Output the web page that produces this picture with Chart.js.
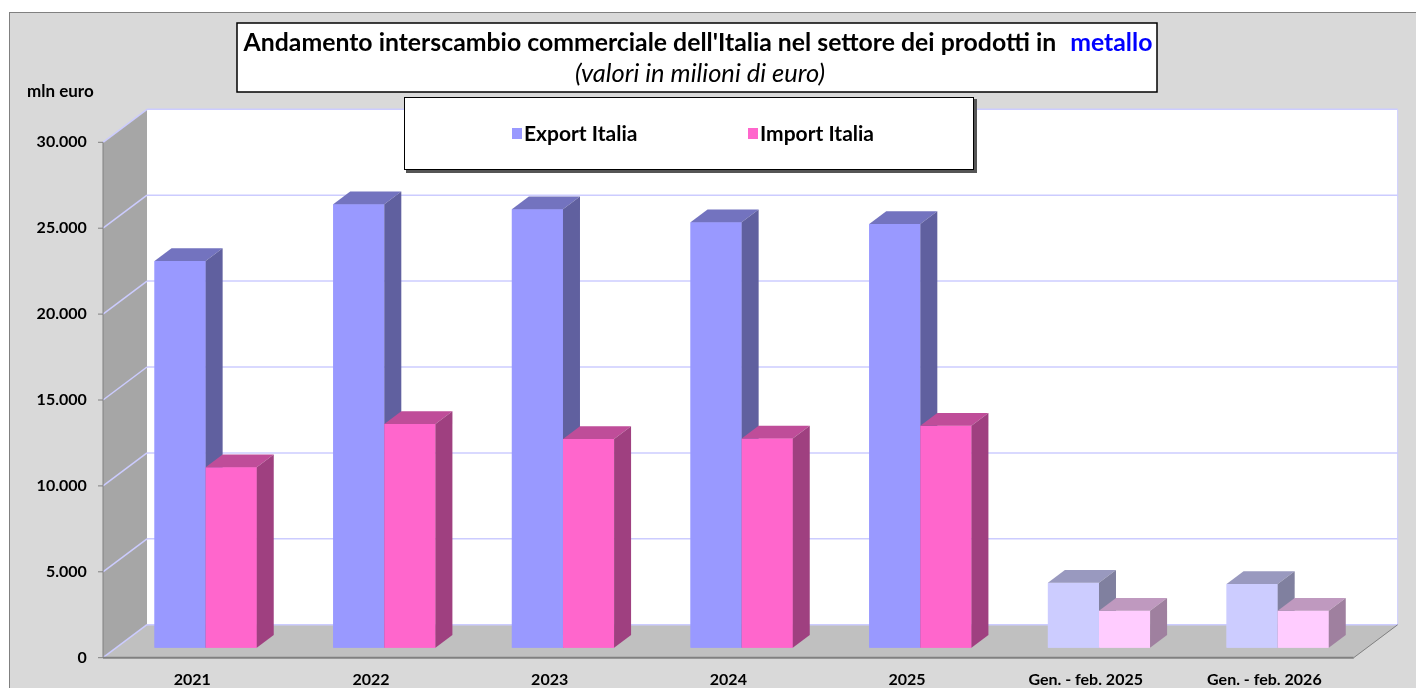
<!DOCTYPE html>
<html lang="it">
<head>
<meta charset="utf-8">
<title>Interscambio prodotti in metallo</title>
<script src="https://cdn.jsdelivr.net/npm/chart.js@4.4.1/dist/chart.umd.min.js"></script>
<style>
  html, body { margin: 0; padding: 0; background: #fff; }
  #wrap { width: 1416px; height: 688px; }
</style>
</head>
<body>
<div id="wrap"><canvas id="metalChart" width="1416" height="688"></canvas></div>
<script>
// valori (milioni di euro)
const categories = ['2021', '2022', '2023', '2024', '2025', 'Gen. - feb. 2025', 'Gen. - feb. 2026'];
const exportItalia = [22510, 25810, 25520, 24760, 24660, 3780, 3710];
const importItalia = [10500, 13020, 12150, 12170, 12920, 2150, 2150];
const yTicks = [0, 5000, 10000, 15000, 20000, 25000, 30000];
const seriesLabels = ['Export Italia', 'Import Italia'];

const titleText = "Andamento interscambio commerciale dell'Italia nel settore dei prodotti in";
const titleHighlight = 'metallo';
const subtitleText = '(valori in milioni di euro)';
const unitLabel = 'mln euro';

// colori: annuali pieni, periodi parziali (Gen. - feb.) chiari
const isPartial = c => c.startsWith('Gen.');
const exportColors = categories.map(c => isPartial(c) ? '#CCCCFF' : '#9999FF');
const importColors = categories.map(c => isPartial(c) ? '#FFCCFF' : '#FF66CC');

// finta profondita' 3D (pixel)
const FRONT = { dx: -13.3, dy: 10 };   // piano frontale dell'asse
const BACK = { dx: 30.7, dy: -23 };    // parete di fondo
const BAR = { dx: 17, dy: 12.75 };     // spessore barre

const fmt = v => String(v).replace(/\B(?=(\d{3})+(?!\d))/g, '.');

function shade(hex, f) {
  const n = parseInt(hex.slice(1), 16);
  const r = Math.round(((n >> 16) & 255) * f);
  const g = Math.round(((n >> 8) & 255) * f);
  const b = Math.round((n & 255) * f);
  return `rgb(${r},${g},${b})`;
}

function poly(ctx, pts, fill) {
  ctx.beginPath();
  ctx.moveTo(pts[0][0], pts[0][1]);
  for (let i = 1; i < pts.length; i++) ctx.lineTo(pts[i][0], pts[i][1]);
  ctx.closePath();
  ctx.fillStyle = fill;
  ctx.fill();
}

function line(ctx, x1, y1, x2, y2) {
  ctx.beginPath();
  ctx.moveTo(x1, y1);
  ctx.lineTo(x2, y2);
  ctx.stroke();
}

const box3d = {
  id: 'box3d',
  beforeDraw(chart) {
    const { ctx, chartArea: a, scales: { y } } = chart;
    const y0 = y.getPixelForValue(y.min);
    const yT = y.getPixelForValue(y.max);
    ctx.save();
    ctx.fillStyle = '#fff';
    ctx.fillRect(0, 0, chart.width, chart.height);
    ctx.fillStyle = '#D9D9D9';
    ctx.fillRect(9.5, 12.5, chart.width, chart.height);
    ctx.strokeStyle = '#808080';
    ctx.lineWidth = 1;
    ctx.strokeRect(9.5, 12.5, chart.width + 10, chart.height + 10);

    // parete di fondo
    ctx.fillStyle = '#fff';
    ctx.fillRect(a.left + BACK.dx, yT + BACK.dy, a.right - a.left, y0 - yT);
    // parete laterale
    poly(ctx, [[a.left + FRONT.dx, yT + FRONT.dy], [a.left + BACK.dx, yT + BACK.dy],
               [a.left + BACK.dx, y0 + BACK.dy], [a.left + FRONT.dx, y0 + FRONT.dy]], '#A6A6A6');
    // pavimento
    poly(ctx, [[a.left + FRONT.dx, y0 + FRONT.dy], [a.right + FRONT.dx, y0 + FRONT.dy],
               [a.right + BACK.dx, y0 + BACK.dy], [a.left + BACK.dx, y0 + BACK.dy]], '#C0C0C0');

    // griglia
    ctx.strokeStyle = '#CCCCFF';
    ctx.lineWidth = 1.5;
    y.ticks.forEach(t => {
      const py = y.getPixelForValue(t.value);
      line(ctx, a.left + FRONT.dx, py + FRONT.dy, a.left + BACK.dx, py + BACK.dy);
      line(ctx, a.left + BACK.dx, py + BACK.dy, a.right + BACK.dx, py + BACK.dy);
    });
    ctx.lineWidth = 1;
    line(ctx, a.right + BACK.dx, yT + BACK.dy, a.right + BACK.dx, y0 + BACK.dy);

    // asse e tacche
    ctx.strokeStyle = '#808080';
    ctx.lineWidth = 1;
    line(ctx, a.left + FRONT.dx, yT + FRONT.dy, a.left + FRONT.dx, y0 + FRONT.dy);
    y.ticks.forEach(t => {
      const py = y.getPixelForValue(t.value) + FRONT.dy;
      line(ctx, a.left + FRONT.dx - 5, py, a.left + FRONT.dx, py);
    });
    ctx.lineWidth = 2;
    line(ctx, a.left + FRONT.dx, y0 + FRONT.dy, a.right + FRONT.dx, y0 + FRONT.dy);
    ctx.lineWidth = 1;
    line(ctx, a.right + FRONT.dx, y0 + FRONT.dy, a.right + BACK.dx, y0 + BACK.dy);
    ctx.restore();
  },
  afterDatasetsDraw(chart) {
    const ctx = chart.ctx;
    const metas = chart.data.datasets.map((d, i) => chart.getDatasetMeta(i));
    ctx.save();
    categories.forEach((c, i) => {
      metas.forEach((meta, di) => {
        const bar = meta.data[i];
        const { x, y, base, width } = bar.getProps(['x', 'y', 'base', 'width'], true);
        const col = chart.data.datasets[di].backgroundColor[i];
        const x0 = x - width / 2, x1 = x + width / 2;
        poly(ctx, [[x0, y], [x1, y], [x1, base], [x0, base]], col);
        poly(ctx, [[x0, y], [x1, y], [x1 + BAR.dx, y - BAR.dy], [x0 + BAR.dx, y - BAR.dy]], shade(col, 0.75));
        poly(ctx, [[x1, y], [x1 + BAR.dx, y - BAR.dy], [x1 + BAR.dx, base - BAR.dy], [x1, base]], shade(col, 0.625));
      });
    });
    ctx.restore();
  },
  afterDraw(chart) {
    const ctx = chart.ctx;
    ctx.save();
    // unita' di misura
    ctx.fillStyle = '#000';
    ctx.font = 'bold 17px Lato';
    ctx.textAlign = 'left';
    ctx.textBaseline = 'alphabetic';
    ctx.fillText(unitLabel, 27, 97);

    // riquadro titolo
    ctx.fillStyle = '#fff';
    ctx.fillRect(237, 23, 920, 69);
    ctx.strokeStyle = '#000';
    ctx.lineWidth = 1.5;
    ctx.strokeRect(237, 23, 920, 69);
    ctx.font = 'bold 24.8px Lato';
    const w1 = ctx.measureText(titleText).width;
    const gap = 14;
    const w2 = ctx.measureText(titleHighlight).width;
    let sx = 698 - (w1 + gap + w2) / 2;
    ctx.fillStyle = '#000';
    ctx.fillText(titleText, sx, 51);
    ctx.fillStyle = '#0000FF';
    ctx.fillText(titleHighlight, sx + w1 + gap, 51);
    ctx.fillStyle = '#000';
    ctx.font = 'italic 25.5px Lato';
    ctx.textAlign = 'center';
    ctx.fillText(subtitleText, 700, 82);

    // legenda
    ctx.fillStyle = '#555';
    ctx.fillRect(406, 99, 571, 74);
    ctx.fillStyle = '#fff';
    ctx.fillRect(404, 97, 570, 73);
    ctx.strokeStyle = '#000';
    ctx.lineWidth = 1;
    ctx.strokeRect(404.5, 97.5, 569, 72);
    ctx.textAlign = 'left';
    ctx.font = 'bold 21px Lato';
    chart.data.datasets.forEach((ds, i) => {
      const lx = 512 + i * 236;
      ctx.fillStyle = ds.backgroundColor[0];
      ctx.fillRect(lx, 128, 10, 11);
      ctx.fillStyle = '#000';
      ctx.fillText(ds.label, lx + 12, 141);
    });
    ctx.restore();
  }
};

const tickFont = { family: 'Lato', weight: 'bold', size: 16 };

const ctx = document.getElementById('metalChart').getContext('2d');
const metalChart = new Chart(ctx, {
  type: 'bar',
  data: {
    labels: categories,
    datasets: [{
      label: seriesLabels[0],
      data: exportItalia,
      backgroundColor: exportColors,
      borderWidth: 0,
      categoryPercentage: 0.572,
      barPercentage: 1
    }, {
      label: seriesLabels[1],
      data: importItalia,
      backgroundColor: importColors,
      borderWidth: 0,
      categoryPercentage: 0.572,
      barPercentage: 1
    }]
  },
  options: {
    responsive: false,
    animation: false,
    layout: { padding: { left: 16.3, right: 49, top: 132.3, bottom: 0.3 } },
    plugins: {
      legend: { display: false },
      tooltip: { enabled: false }
    },
    scales: {
      x: {
        grid: { display: false, drawTicks: false },
        border: { display: false },
        ticks: {
          color: '#000', font: tickFont, padding: 23, labelOffset: FRONT.dx,
          maxRotation: 0, autoSkip: false
        },
        afterFit: s => { s.height = 40; }
      },
      y: {
        min: 0,
        max: 30000,
        grid: { display: false, drawTicks: false },
        border: { display: false },
        ticks: {
          color: '#000', font: tickFont, padding: 29.5, labelOffset: FRONT.dy,
          callback: v => fmt(v)
        },
        afterBuildTicks: s => { s.ticks = yTicks.map(v => ({ value: v })); },
        afterFit: s => { s.width = 100; }
      }
    }
  },
  plugins: [box3d]
});
</script>
</body>
</html>
